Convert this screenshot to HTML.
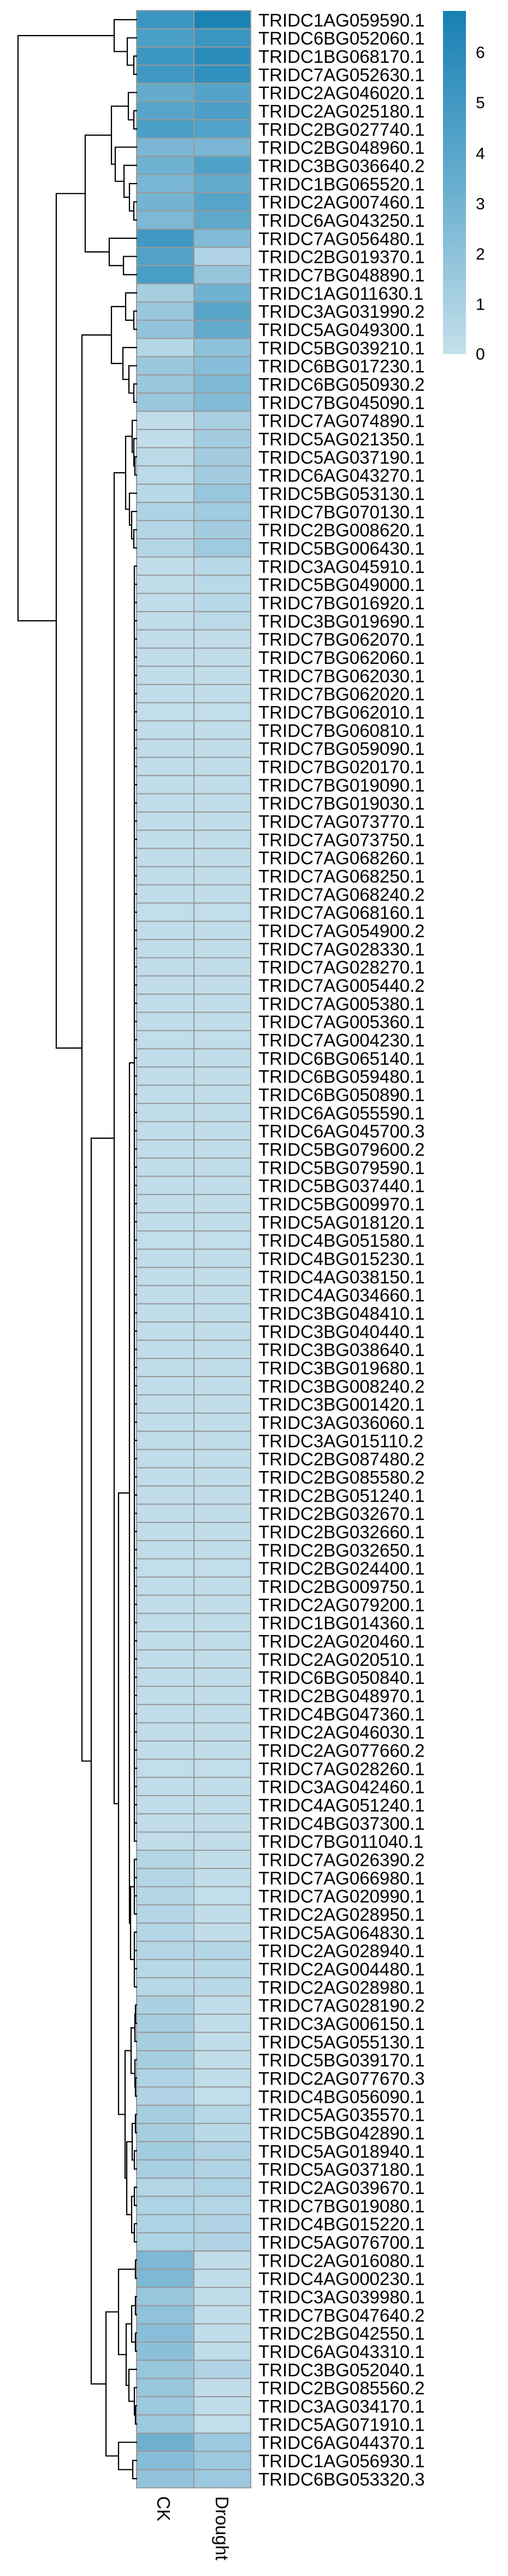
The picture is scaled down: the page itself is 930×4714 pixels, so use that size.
<!DOCTYPE html>
<html><head><meta charset="utf-8">
<style>
html,body{margin:0;padding:0;background:#fff;}
body{width:930px;height:4714px;position:relative;overflow:hidden;}
svg{position:absolute;left:0;top:0;}
text{font-family:"Liberation Sans",Arial,sans-serif;fill:#000;}
</style></head>
<body>
<svg id="s" width="930" height="4714" viewBox="0 0 930 4714" xmlns="http://www.w3.org/2000/svg">
<defs>
<linearGradient id="lg" x1="0" y1="0" x2="0" y2="1">
<stop offset="0" stop-color="#1880b4"/>
<stop offset="0.5" stop-color="#66adce"/>
<stop offset="1" stop-color="#c4e0eb"/>
</linearGradient>
</defs>
<g id="cells"></g>
<g id="dend" stroke="#000" stroke-width="2.2" fill="none" stroke-linecap="square"></g>
<rect x="811" y="20" width="42" height="628" fill="url(#lg)"/>
<g font-size="30">
<text x="871" y="106">6</text>
<text x="871" y="198">5</text>
<text x="871" y="291">4</text>
<text x="871" y="383">3</text>
<text x="871" y="475">2</text>
<text x="871" y="567">1</text>
<text x="871" y="658">0</text>
</g>
<g font-size="33">
<text transform="translate(288,4568) rotate(90)">CK</text>
<text transform="translate(395,4568) rotate(90)">Drought</text>
</g>
<g id="labels" font-size="33">
<text x="473" y="48.3">TRIDC1AG059590.1</text>
<text x="473" y="81.6">TRIDC6BG052060.1</text>
<text x="473" y="115">TRIDC1BG068170.1</text>
<text x="473" y="148.3">TRIDC7AG052630.1</text>
<text x="473" y="181.6">TRIDC2AG046020.1</text>
<text x="473" y="215">TRIDC2AG025180.1</text>
<text x="473" y="248.3">TRIDC2BG027740.1</text>
<text x="473" y="281.6">TRIDC2BG048960.1</text>
<text x="473" y="315">TRIDC3BG036640.2</text>
<text x="473" y="348.3">TRIDC1BG065520.1</text>
<text x="473" y="381.6">TRIDC2AG007460.1</text>
<text x="473" y="415">TRIDC6AG043250.1</text>
<text x="473" y="448.3">TRIDC7AG056480.1</text>
<text x="473" y="481.6">TRIDC2BG019370.1</text>
<text x="473" y="515">TRIDC7BG048890.1</text>
<text x="473" y="548.3">TRIDC1AG011630.1</text>
<text x="473" y="581.6">TRIDC3AG031990.2</text>
<text x="473" y="615">TRIDC5AG049300.1</text>
<text x="473" y="648.3">TRIDC5BG039210.1</text>
<text x="473" y="681.6">TRIDC6BG017230.1</text>
<text x="473" y="715">TRIDC6BG050930.2</text>
<text x="473" y="748.3">TRIDC7BG045090.1</text>
<text x="473" y="781.6">TRIDC7AG074890.1</text>
<text x="473" y="815">TRIDC5AG021350.1</text>
<text x="473" y="848.3">TRIDC5AG037190.1</text>
<text x="473" y="881.6">TRIDC6AG043270.1</text>
<text x="473" y="915">TRIDC5BG053130.1</text>
<text x="473" y="948.3">TRIDC7BG070130.1</text>
<text x="473" y="981.6">TRIDC2BG008620.1</text>
<text x="473" y="1015">TRIDC5BG006430.1</text>
<text x="473" y="1048.3">TRIDC3AG045910.1</text>
<text x="473" y="1081.6">TRIDC5BG049000.1</text>
<text x="473" y="1115">TRIDC7BG016920.1</text>
<text x="473" y="1148.3">TRIDC3BG019690.1</text>
<text x="473" y="1181.6">TRIDC7BG062070.1</text>
<text x="473" y="1215">TRIDC7BG062060.1</text>
<text x="473" y="1248.3">TRIDC7BG062030.1</text>
<text x="473" y="1281.6">TRIDC7BG062020.1</text>
<text x="473" y="1315">TRIDC7BG062010.1</text>
<text x="473" y="1348.3">TRIDC7BG060810.1</text>
<text x="473" y="1381.6">TRIDC7BG059090.1</text>
<text x="473" y="1415">TRIDC7BG020170.1</text>
<text x="473" y="1448.3">TRIDC7BG019090.1</text>
<text x="473" y="1481.6">TRIDC7BG019030.1</text>
<text x="473" y="1515">TRIDC7AG073770.1</text>
<text x="473" y="1548.3">TRIDC7AG073750.1</text>
<text x="473" y="1581.6">TRIDC7AG068260.1</text>
<text x="473" y="1615">TRIDC7AG068250.1</text>
<text x="473" y="1648.3">TRIDC7AG068240.2</text>
<text x="473" y="1681.6">TRIDC7AG068160.1</text>
<text x="473" y="1715">TRIDC7AG054900.2</text>
<text x="473" y="1748.3">TRIDC7AG028330.1</text>
<text x="473" y="1781.6">TRIDC7AG028270.1</text>
<text x="473" y="1815">TRIDC7AG005440.2</text>
<text x="473" y="1848.3">TRIDC7AG005380.1</text>
<text x="473" y="1881.6">TRIDC7AG005360.1</text>
<text x="473" y="1915">TRIDC7AG004230.1</text>
<text x="473" y="1948.3">TRIDC6BG065140.1</text>
<text x="473" y="1981.6">TRIDC6BG059480.1</text>
<text x="473" y="2015">TRIDC6BG050890.1</text>
<text x="473" y="2048.3">TRIDC6AG055590.1</text>
<text x="473" y="2081.6">TRIDC6AG045700.3</text>
<text x="473" y="2115">TRIDC5BG079600.2</text>
<text x="473" y="2148.3">TRIDC5BG079590.1</text>
<text x="473" y="2181.6">TRIDC5BG037440.1</text>
<text x="473" y="2215">TRIDC5BG009970.1</text>
<text x="473" y="2248.3">TRIDC5AG018120.1</text>
<text x="473" y="2281.6">TRIDC4BG051580.1</text>
<text x="473" y="2315">TRIDC4BG015230.1</text>
<text x="473" y="2348.3">TRIDC4AG038150.1</text>
<text x="473" y="2381.6">TRIDC4AG034660.1</text>
<text x="473" y="2415">TRIDC3BG048410.1</text>
<text x="473" y="2448.3">TRIDC3BG040440.1</text>
<text x="473" y="2481.6">TRIDC3BG038640.1</text>
<text x="473" y="2515">TRIDC3BG019680.1</text>
<text x="473" y="2548.3">TRIDC3BG008240.2</text>
<text x="473" y="2581.6">TRIDC3BG001420.1</text>
<text x="473" y="2615">TRIDC3AG036060.1</text>
<text x="473" y="2648.3">TRIDC3AG015110.2</text>
<text x="473" y="2681.6">TRIDC2BG087480.2</text>
<text x="473" y="2715">TRIDC2BG085580.2</text>
<text x="473" y="2748.3">TRIDC2BG051240.1</text>
<text x="473" y="2781.6">TRIDC2BG032670.1</text>
<text x="473" y="2815">TRIDC2BG032660.1</text>
<text x="473" y="2848.3">TRIDC2BG032650.1</text>
<text x="473" y="2881.6">TRIDC2BG024400.1</text>
<text x="473" y="2915">TRIDC2BG009750.1</text>
<text x="473" y="2948.3">TRIDC2AG079200.1</text>
<text x="473" y="2981.6">TRIDC1BG014360.1</text>
<text x="473" y="3015">TRIDC2AG020460.1</text>
<text x="473" y="3048.3">TRIDC2AG020510.1</text>
<text x="473" y="3081.6">TRIDC6BG050840.1</text>
<text x="473" y="3115">TRIDC2BG048970.1</text>
<text x="473" y="3148.3">TRIDC4BG047360.1</text>
<text x="473" y="3181.6">TRIDC2AG046030.1</text>
<text x="473" y="3215">TRIDC2AG077660.2</text>
<text x="473" y="3248.3">TRIDC7AG028260.1</text>
<text x="473" y="3281.6">TRIDC3AG042460.1</text>
<text x="473" y="3315">TRIDC4AG051240.1</text>
<text x="473" y="3348.3">TRIDC4BG037300.1</text>
<text x="473" y="3381.6">TRIDC7BG011040.1</text>
<text x="473" y="3415">TRIDC7AG026390.2</text>
<text x="473" y="3448.3">TRIDC7AG066980.1</text>
<text x="473" y="3481.6">TRIDC7AG020990.1</text>
<text x="473" y="3515">TRIDC2AG028950.1</text>
<text x="473" y="3548.3">TRIDC5AG064830.1</text>
<text x="473" y="3581.6">TRIDC2AG028940.1</text>
<text x="473" y="3615">TRIDC2AG004480.1</text>
<text x="473" y="3648.3">TRIDC2AG028980.1</text>
<text x="473" y="3681.6">TRIDC7AG028190.2</text>
<text x="473" y="3715">TRIDC3AG006150.1</text>
<text x="473" y="3748.3">TRIDC5AG055130.1</text>
<text x="473" y="3781.6">TRIDC5BG039170.1</text>
<text x="473" y="3815">TRIDC2AG077670.3</text>
<text x="473" y="3848.3">TRIDC4BG056090.1</text>
<text x="473" y="3881.6">TRIDC5AG035570.1</text>
<text x="473" y="3915">TRIDC5BG042890.1</text>
<text x="473" y="3948.3">TRIDC5AG018940.1</text>
<text x="473" y="3981.6">TRIDC5AG037180.1</text>
<text x="473" y="4015">TRIDC2AG039670.1</text>
<text x="473" y="4048.3">TRIDC7BG019080.1</text>
<text x="473" y="4081.6">TRIDC4BG015220.1</text>
<text x="473" y="4115">TRIDC5AG076700.1</text>
<text x="473" y="4148.3">TRIDC2AG016080.1</text>
<text x="473" y="4181.6">TRIDC4AG000230.1</text>
<text x="473" y="4215">TRIDC3AG039980.1</text>
<text x="473" y="4248.3">TRIDC7BG047640.2</text>
<text x="473" y="4281.6">TRIDC2BG042550.1</text>
<text x="473" y="4315">TRIDC6AG043310.1</text>
<text x="473" y="4348.3">TRIDC3BG052040.1</text>
<text x="473" y="4381.6">TRIDC2BG085560.2</text>
<text x="473" y="4415">TRIDC3AG034170.1</text>
<text x="473" y="4448.3">TRIDC5AG071910.1</text>
<text x="473" y="4481.6">TRIDC6AG044370.1</text>
<text x="473" y="4515">TRIDC1AG056930.1</text>
<text x="473" y="4548.3">TRIDC6BG053320.3</text>
</g>
</svg>
<script>
(function(){
var NS="http://www.w3.org/2000/svg";
var T=19.3,H=33.333;
var D="#c0dde9";
var C={
1:["#3a96c0","#1a83b4"],2:["#4a9fc6","#3a96c0"],3:["#3d98c1","#2b8dbb"],4:["#3f99c2","#3090bd"],
5:["#64abcc","#54a3c8"],6:["#56a4c8","#4c9fc6"],7:["#4a9fc6","#51a2c8"],8:["#7bb7d4","#7bb7d4"],
9:["#6fb1d0","#4ea1c7"],10:["#78b6d3","#62aacb"],11:["#74b4d2","#55a4c9"],12:["#7db8d5","#5da8cb"],
13:["#3f99c2","#82bbd6"],14:["#52a2c8","#afd3e4"],15:["#489ec5","#97c5dc"],16:["#a6cee1","#6fb1d0"],
17:["#9ac7de","#56a4c8"],18:["#92c3dc","#62aacb"],19:["#b3d6e6","#8ec1da"],20:["#9ac7de","#86bdd8"],
21:["#9ac7de","#7cb8d4"],22:["#9ac7de","#82bbd6"],23:["#c0dde9","#a9cfe2"],24:["#c0dde9","#a3cce0"],
25:["#badae7","#a3cce0"],26:["#badae7","#a3cce0"],27:["#b8d9e7","#98c6dd"],28:["#add3e5","#a0cbe0"],
29:["#b3d6e6","#a3cce0"],30:["#b3d6e6","#9fcae0"],31:[D,"#b8d9e7"],32:[D,"#b8d9e7"],33:[D,"#b8d9e7"],34:[D,"#bbdae8"],
102:["#b3d6e6",D],103:["#b3d6e6",D],104:["#b3d6e6",D],105:["#b3d6e6",D],106:["#b3d6e6",D],107:["#b3d6e6","#b3d6e6"],
108:["#b8d9e7","#b8d9e7"],109:["#b8d9e7","#b8d9e7"],
110:["#aad0e2",D],111:["#a6cee1",D],112:["#a6cee1",D],113:["#a6cee1",D],114:["#add3e5",D],115:["#b0d4e5",D],
116:["#a6cee1","#b5d7e6"],117:["#a6cee1","#b8d9e7"],118:["#a2cce0","#b0d4e5"],119:["#a8cfe2","#b0d4e5"],
120:["#b3d6e6","#add3e5"],121:["#add3e5","#b3d6e6"],122:["#add3e5","#b0d4e5"],123:["#add3e5","#b0d4e5"],
124:["#7db8d4",D],125:["#7db8d4",D],126:["#98c6dd",D],127:["#90c2db",D],128:["#88bed9",D],129:["#8cc0da",D],
130:["#98c6dd","#b0d4e5"],131:["#98c6dd",D],132:["#9dc9df",D],133:["#9dc9df",D],
134:["#70b0cf","#9cc9df"],135:["#86bdd8","#9cc9df"],136:["#91c3db","#9cc9df"]
};
var g=document.getElementById("cells");
function el(n,a,p){var e=document.createElementNS(NS,n);for(var k in a)e.setAttribute(k,a[k]);p.appendChild(e);return e;}
for(var i=1;i<=136;i++){
 var c=C[i]||[D,D];
 var y=T+H*(i-1);
 el("rect",{x:250,y:y,width:105,height:H,fill:c[0],stroke:"#999","stroke-width":2},g);
 el("rect",{x:355,y:y,width:104,height:H,fill:c[1],stroke:"#999","stroke-width":2},g);
}
// dendrogram
function N(x,ch,yo){return {x:x,c:ch,yo:yo};}
function R(a,b){var r=[];for(var i=a;i<=b;i++)r.push(i);return r;}
function ly(i){return T+H*(i-0.5);}
var A1=N(209,[1,N(233,[2,N(245,[3,4])])]);
var n235=N(235,[5,N(245,[6,7])]);
var n211=N(211,[8,N(227,[9,N(237,[10,N(245,[11,12])])])]);
var n204a=N(204,[n235,n211]);
var n200=N(200,[13,N(226,[14,15])]);
var n156=N(156,[n204a,n200]);
var n230a=N(230,[16,N(245,[17,18])]);
var n225=N(225,[19,N(236,[20,N(245,[21,22])])]);
var n204b=N(204,[n230a,n225]);
var n242=N(242,[23,N(245,[24,N(247,[25,26])])]);
var n237a=N(237,[27,N(241,[28,N(245,[29,30])])]);
var n230=N(230,[n242,n237a]);
var comb1=N(246,R(31,101),1945);
var n239=N(239,[N(246,R(102,105)),N(246,R(106,109))]);
var n237=N(237,[comb1,n239]);
var n240=N(240,[N(247,[N(248,[110,111]),112]),N(247,[113,N(248,[114,115])])]);
var n232=N(232,[N(242,[N(248,[116,117]),N(246,[118,119])]),N(241,[N(246,[120,121]),N(246,[122,123])])]);
var n229=N(229,[n240,n232]);
var n217=N(217,[n237,n229]);
var n209=N(209,[n230,n217]);
var n217b=N(217,[N(248,[124,125]),N(231,[N(241,[N(248,[126,127]),N(248,[128,129])]),N(236,[130,N(246,[131,N(248,[132,133])])])])]);
var n217c=N(217,[134,N(243,[135,136])]);
var n194=N(194,[n217b,n217c]);
var n167=N(167,[n209,n194]);
var n150=N(150,[n204b,n167]);
var n103=N(103,[n156,n150]);
var root=N(33,[A1,n103]);
var dg=document.getElementById("dend");
var d="";
function Y(n){
 if(typeof n==="number")return ly(n);
 var ys=n.c.map(Y);
 n._y=(n.yo!==undefined)?n.yo:(ys[0]+ys[ys.length-1])/2;
 n._ys=ys;return n._y;
}
function X(n){return typeof n==="number"?250:n.x;}
function draw(n){
 if(typeof n==="number")return;
 var ys=n._ys;
 d+="M"+n.x+" "+Math.min.apply(null,ys).toFixed(1)+"V"+Math.max.apply(null,ys).toFixed(1);
 for(var i=0;i<n.c.length;i++){
  d+="M"+n.x+" "+ys[i].toFixed(1)+"H"+X(n.c[i]);
  draw(n.c[i]);
 }
}
Y(root);draw(root);
el("path",{d:d},dg);
})();
</script>
</body></html>
